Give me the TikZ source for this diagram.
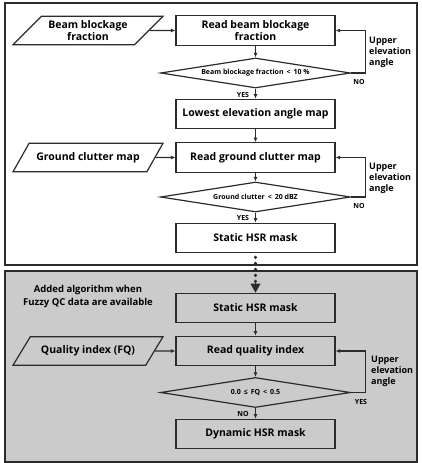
\documentclass[tikz,border=0pt]{standalone}
\usepackage{fontspec}
\setmainfont{Open Sans}
\usetikzlibrary{shapes.geometric,arrows.meta,calc}
\definecolor{ln}{HTML}{2B2B2B}
\definecolor{panel}{HTML}{CBCBCB}
\begin{document}
\begin{tikzpicture}[x=1pt,y=-1pt,
  font=\bfseries,
  box/.style={draw=ln, line width=1.2pt, minimum width=159pt, minimum height=29.5pt, inner sep=1pt, align=center, font=\fontsize{10.5}{11.5}\selectfont\bfseries},
  iobox/.style={draw=ln, line width=1.2pt, trapezium, trapezium left angle=41, trapezium right angle=139, trapezium stretches=true, minimum width=150pt, minimum height=28.5pt, inner sep=1pt, align=center, font=\fontsize{10.5}{11.5}\selectfont\bfseries},
  dec/.style={draw=ln, line width=1.2pt, diamond, shape aspect=6.3, minimum width=190pt, minimum height=30pt, inner sep=0pt, font=\fontsize{7}{8}\selectfont\bfseries},
  arr/.style={-{Latex[length=4.5pt,width=4pt]}, line width=1.2pt, draw=ln},
  lab/.style={font=\fontsize{7}{8}\selectfont\bfseries, inner sep=0pt},
  side/.style={font=\fontsize{9}{11}\selectfont\bfseries, align=left, inner sep=0pt, anchor=west}
]
\useasboundingbox (0,0) rectangle (421,463);
\draw[line width=1.3pt, draw=ln] (5,3) rectangle (417,265);
\fill[panel] (5,271) rectangle (417,462);
\draw[line width=1.3pt, draw=ln] (5,271) rectangle (417,462);

% upper part
\node[box] (b1) at (255.5,30.5) {Read beam blockage\\fraction};
\node[iobox] (p1) at (88,30.5) {Beam blockage\\fraction};
\node[dec] (d1) at (255.5,73) {Beam blockage fraction \,<\, 10 \%};
\node[box] (b2) at (255.5,114) {Lowest elevation angle map};
\node[box] (b3) at (255.5,157.5) {Read ground clutter map};
\node[iobox] (p2) at (88,157.5) {Ground clutter map};
\node[dec] (d2) at (255.5,197) {Ground clutter \,<\, 20 dBZ};
\node[box] (b4) at (255.5,238) {Static HSR mask};

\draw[arr] (p1.east) -- (b1.west);
\draw[arr] (b1.south) -- (d1.north);
\draw[arr] (d1.south) -- (b2.north);
\draw[arr] (d1.east) -- ++(14,0) |- (b1.east);
\draw[arr] (b2.south) -- (b3.north);
\draw[arr] (p2.east) -- (b3.west);
\draw[arr] (b3.south) -- (d2.north);
\draw[arr] (d2.south) -- (b4.north);
\draw[arr] (d2.east) -- ++(14,0) |- (b3.east);

\node[lab] (y1) at (243,94.5) {YES};
\node[lab] (n1) at (359,82) {NO};
\node[side] (u1) at (369,52) {Upper\\elevation\\angle};
\node[lab] (y2) at (243,217.5) {YES};
\node[lab] (n2) at (359,206) {NO};
\node[side] (u2) at (369,178.5) {Upper\\elevation\\angle};

% lower part
\node[box] (b5) at (255.5,308) {Static HSR mask};
\node[box] (b6) at (255.5,351) {Read quality index};
\node[iobox] (p3) at (88,351) {Quality index (FQ)};
\node[dec] (d3) at (255.5,392.5) {0.0 \,≤\, FQ \,<\, 0.5};
\node[box] (b7) at (255.5,434) {Dynamic HSR mask};
\node[font=\fontsize{9.5}{13}\selectfont\bfseries, align=center] (t) at (88,296.5) {Added algorithm when\\Fuzzy QC data are available};

\coordinate (dstart) at ($(b4.south)+(0,4)$);
\coordinate (dend) at ($(b5.north)+(0,-9)$);
\draw[draw=ln, line width=3.4pt, line cap=round, dash pattern=on 0pt off 6pt] (dstart) -- (dend);
\draw[draw=ln, line width=1.2pt, -{Triangle[length=9pt,width=10pt]}] ($(b5.north)+(0,-10)$) -- (b5.north);
\draw[arr] (b5.south) -- (b6.north);
\draw[arr] (p3.east) -- (b6.west);
\draw[arr] (b6.south) -- (d3.north);
\draw[arr] (d3.south) -- (b7.north);
\draw[arr] (d3.east) -- ++(14,0) |- (b6.east);

\node[lab] (n3) at (243,414) {NO};
\node[lab] (y3) at (361,402) {YES};
\node[side] (u3) at (371,371.5) {Upper\\elevation\\angle};
\end{tikzpicture}
\end{document}
